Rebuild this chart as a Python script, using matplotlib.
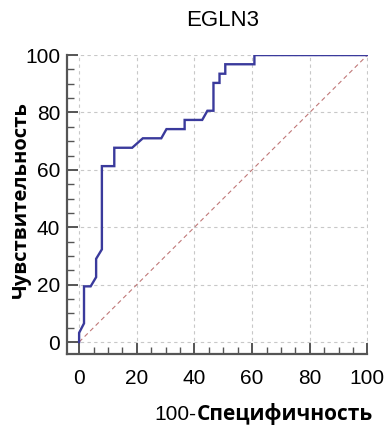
import matplotlib
matplotlib.use("Agg")
import matplotlib.pyplot as plt
from matplotlib.ticker import MultipleLocator

title = "EGLN3"
xlabel_prefix = "100-"
xlabel_main = "Специфичность"
ylabel = "Чувствительность"

fpr = [0, 0, 1.7, 1.7, 4.0, 5.9, 5.9, 7.9, 7.9, 12.2, 12.2, 18.4, 22.1, 28.5,
       30.3, 36.6, 36.6, 42.7, 44.5, 46.6, 46.6, 48.7, 48.7, 50.7, 50.7, 60.8, 60.8, 100]
tpr = [0, 3.2, 6.5, 19.4, 19.4, 22.6, 29.0, 32.3, 61.3, 61.3, 67.7, 67.7, 71.0, 71.0,
       74.2, 74.2, 77.4, 77.4, 80.6, 80.6, 90.3, 90.3, 93.5, 93.5, 96.8, 96.8, 100, 100]
ref_x = [0, 100]
ref_y = [0, 100]
ticks = [0, 20, 40, 60, 80, 100]

plt.rcParams['font.family'] = ['Liberation Sans', 'DejaVu Sans']

fig = plt.figure(figsize=(3.9, 4.3), dpi=100)
ax = fig.add_axes([67/390, 1-353.5/430, 301/390, 299/430])

ax.plot(ref_x, ref_y, color='#c07878', lw=0.8, ls=(0, (4, 3)), zorder=2)
ax.plot(fpr, tpr, color='#3a3a9c', lw=1.7, zorder=3, solid_joinstyle='miter')

ax.set_xlim(-4.2, 100.2)
ax.set_ylim(-4.0, 100.2)
ax.set_xticks(ticks)
ax.set_yticks(ticks)
ax.xaxis.set_minor_locator(MultipleLocator(5))
ax.yaxis.set_minor_locator(MultipleLocator(5))
ax.grid(True, which='major', color='#c8c8c8', ls=(0, (3, 3)), lw=0.8)
ax.set_axisbelow(True)
for s in ['top', 'right']:
    ax.spines[s].set_visible(False)
for s in ['left', 'bottom']:
    ax.spines[s].set_color('#555555')
    ax.spines[s].set_linewidth(1.6)
ax.spines['left'].set_bounds(-4.0, 100)
ax.spines['bottom'].set_bounds(-4.2, 100)
ax.tick_params(which='major', direction='in', length=8, width=1.4, color='#555555',
               labelsize=15)
ax.tick_params(which='minor', direction='in', length=5, width=1.0, color='#555555')
ax.tick_params(axis='y', pad=5)
ax.tick_params(axis='x', pad=11)

fig.text(223/390, 1-21/430, title, ha='center', va='center', fontsize=16)
fig.text(196/390, 1-415/430, xlabel_prefix, ha='right', va='center', fontsize=15)
fig.text(197/390, 1-414/430, xlabel_main, ha='left', va='center', fontsize=15,
         fontweight='bold', family=['Open Sans', 'DejaVu Sans'])
fig.text(21/390, 1-200/430, ylabel, ha='center', va='center', fontsize=14.5,
         fontweight='bold', rotation=90, family=['Open Sans', 'DejaVu Sans'])

fig.savefig("out.png", dpi=100)
